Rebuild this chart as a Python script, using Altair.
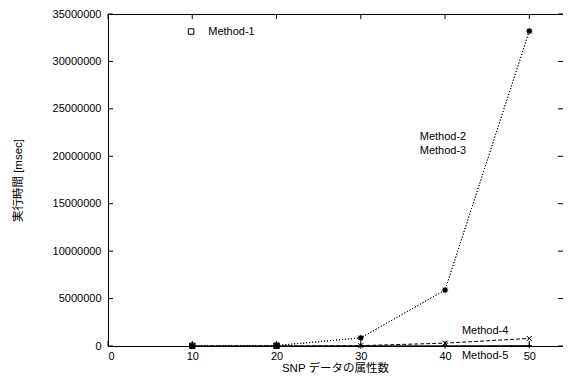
import altair as alt
import pandas as pd

# ---- data ----
x_vals = [10, 20, 30, 40, 50]
method1 = [20000, 30000]            # only small sizes (hidden under other markers)
method2 = [10000, 60000, 850000, 5900000, 33200000]
method3 = [10000, 60000, 850000, 5900000, 33200000]
method4 = [0, 5000, 40000, 300000, 800000]
method5 = [0, 2000, 10000, 20000, 40000]

x_ticks = [0, 10, 20, 30, 40, 50]
y_ticks = [0, 5000000, 10000000, 15000000, 20000000, 25000000, 30000000, 35000000]

label_text = ["Method-1", "Method-2", "Method-3", "Method-4", "Method-5"]
label_x = [11.9, 37.0, 37.0, 42.0, 42.0]
label_y = [33150000, 22000000, 20570000, 1540000, -1100000]
key_x = [9.86]
key_y = [33150000]

FONT = "Liberation Sans, Arial, Noto Sans CJK JP"
W, H = 455, 332

xs = alt.Scale(domain=[0, 54], nice=False, zero=False)
ys = alt.Scale(domain=[0, 35000000], nice=False)

x_enc = alt.X("x:Q", scale=xs, axis=alt.Axis(values=x_ticks, title="SNP データの属性数",
              labelPadding=4, titleX=227, titleY=22, titleBaseline="middle",
              titleFontWeight="normal", titleFontSize=11.5))
y_enc = alt.Y("y:Q", scale=ys, axis=alt.Axis(values=y_ticks, format="d", title="実行時間 [msec]",
              labelPadding=7, titleX=-90, titleY=H / 2, titleAngle=270, titleAlign="center",
              titleBaseline="middle", titleFontWeight="normal", titleFontSize=11.5))

def series_df(vals):
    return pd.DataFrame({"x": x_vals[:len(vals)], "y": vals})

ASTER = "M-1,0L1,0M0,-1L0,1M-0.7,-0.7L0.7,0.7M-0.7,0.7L0.7,-0.7"
XSHAPE = "M-1,-1L1,1M-1,1L1,-1"
PLUS = "M-1,0L1,0M0,-1L0,1"

layers = []

def add_series(vals, dash, shape, size, filled=False):
    d = series_df(vals)
    base = alt.Chart(d)
    if dash is not None:
        lm = base.mark_line(color="black", strokeWidth=1, strokeDash=dash) if dash else \
            base.mark_line(color="black", strokeWidth=1)
        layers.append(lm.encode(x=x_enc, y=y_enc))
    layers.append(base.mark_point(shape=shape, size=size, filled=filled, color="black",
                                  strokeWidth=1, opacity=1).encode(x="x:Q", y="y:Q"))

add_series(method5, [], PLUS, 30)
add_series(method4, [4, 2], XSHAPE, 25)
add_series(method3, [1, 2], "square", 20, filled=True)
add_series(method2, [1, 2], ASTER, 40)
add_series(method1, None, "square", 30)

# inward tick marks (gnuplot style, mirrored on all four sides)
xt = pd.DataFrame({"x": x_ticks})
yt = pd.DataFrame({"y": y_ticks})
layers.append(alt.Chart(xt).mark_rule(color="black", strokeWidth=1).encode(
    x="x:Q", y=alt.value(H - 5), y2=alt.value(H)))
layers.append(alt.Chart(xt).mark_rule(color="black", strokeWidth=1).encode(
    x="x:Q", y=alt.value(0), y2=alt.value(5)))
layers.append(alt.Chart(yt).mark_rule(color="black", strokeWidth=1).encode(
    y="y:Q", x=alt.value(0), x2=alt.value(5)))
layers.append(alt.Chart(yt).mark_rule(color="black", strokeWidth=1).encode(
    y="y:Q", x=alt.value(W - 5), x2=alt.value(W)))

# labels
lab = pd.DataFrame({"x": label_x, "y": label_y, "t": label_text})
layers.append(alt.Chart(lab).mark_text(align="left", baseline="middle", font=FONT,
                                       fontSize=11, color="black").encode(
    x="x:Q", y="y:Q", text="t:N"))
key = pd.DataFrame({"x": key_x, "y": key_y})
layers.append(alt.Chart(key).mark_point(shape="square", size=30, filled=False, color="black",
                                        strokeWidth=1, opacity=1).encode(x="x:Q", y="y:Q"))

chart = alt.layer(*layers).properties(
    width=W, height=H,
    autosize=alt.AutoSizeParams(type="none"),
    padding={"left": 100, "top": 6, "right": 0, "bottom": 28},
).configure_view(stroke="black", strokeWidth=1).configure_axis(
    domain=False, ticks=False, grid=False, labelFont=FONT, titleFont=FONT,
    labelFontSize=11, labelColor="black", titleColor="black"
)

chart.save("out.html", embed_options={"renderer": "svg", "actions": False})
